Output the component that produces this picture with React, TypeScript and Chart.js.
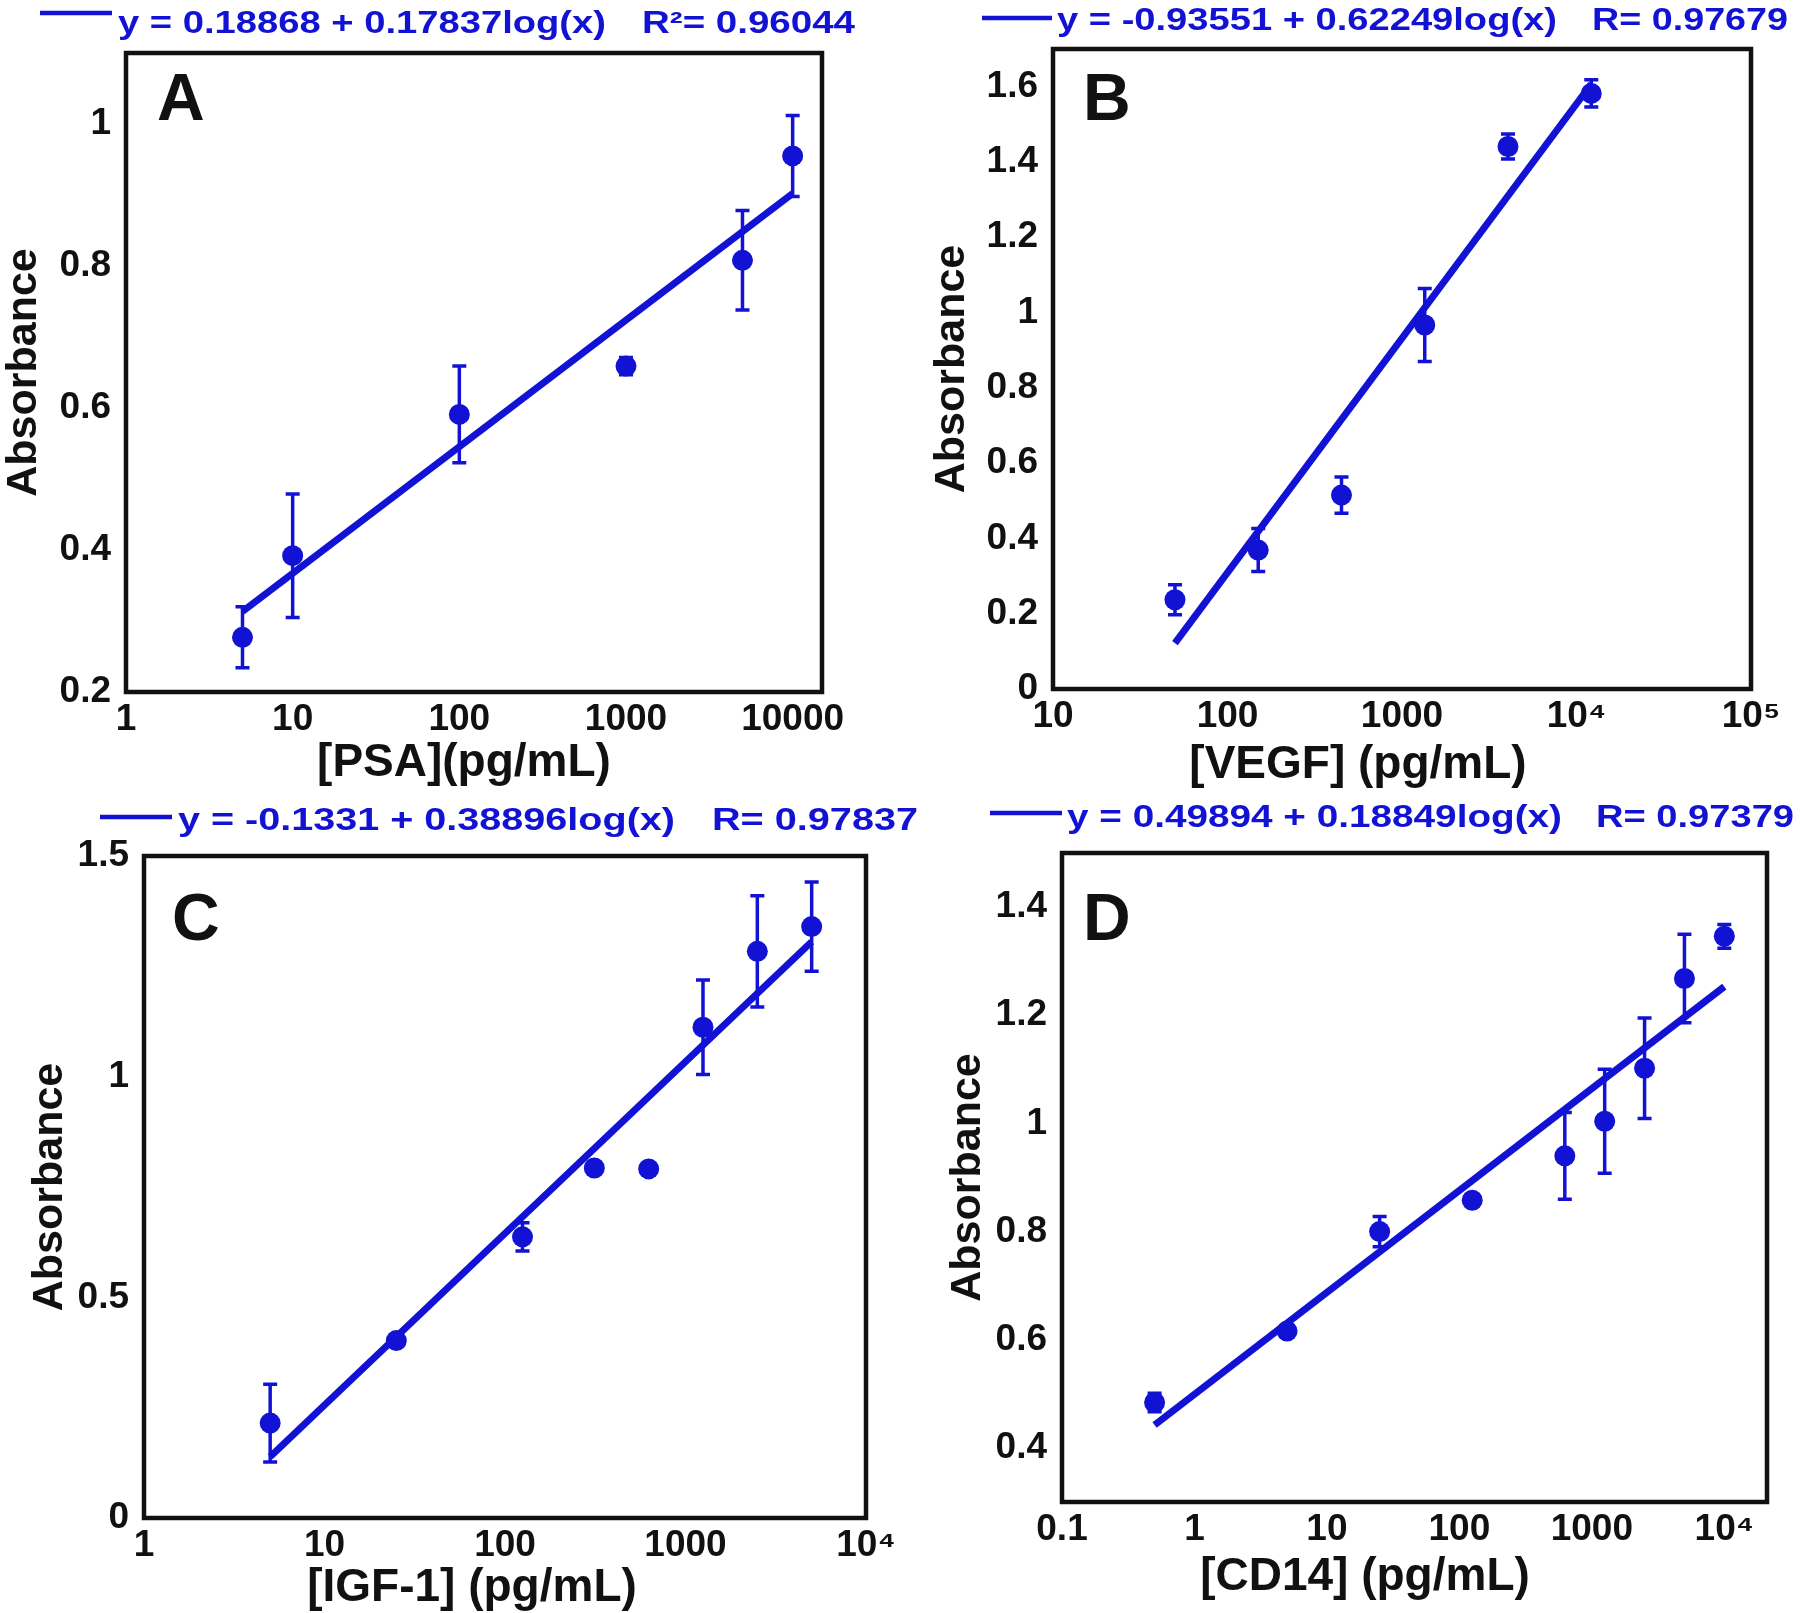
import React, { useEffect, useRef } from 'react';
import { Chart, registerables } from 'chart.js';

Chart.register(...registerables);

// ---------------- Panel A : PSA ----------------
const A_X = [5, 10, 100, 1000, 5000, 10000];
const A_Y = [0.277, 0.392, 0.591, 0.659, 0.808, 0.955];
const A_ERR = [0.043, 0.087, 0.068, 0.012, 0.07, 0.057];
const A_FIT_X = [5, 10000];
const A_FIT_Y = [0.31336, 0.90216];
const A_XTICKS = [1, 10, 100, 1000, 10000];
const A_XLABELS = ['1', '10', '100', '1000', '10000'];
const A_YTICKS = [0.2, 0.4, 0.6, 0.8, 1];
const A_YLABELS = ['0.2', '0.4', '0.6', '0.8', '1'];
const A_EQ = 'y = 0.18868 + 0.17837log(x)';
const A_R = 'R\u00B2= 0.96044';
const A_XTITLE = '[PSA](pg/mL)';

// ---------------- Panel B : VEGF ----------------
const B_X = [50, 150, 450, 1350, 4050, 12150];
const B_Y = [0.237, 0.369, 0.515, 0.967, 1.441, 1.582];
const B_ERR = [0.04, 0.057, 0.048, 0.097, 0.033, 0.036];
const B_FIT_X = [50, 12150];
const B_FIT_Y = [0.12208, 1.6071];
const B_XTICKS = [10, 100, 1000, 10000, 100000];
const B_XLABELS = ['10', '100', '1000', '10\u2074', '10\u2075'];
const B_YTICKS = [0, 0.2, 0.4, 0.6, 0.8, 1, 1.2, 1.4, 1.6];
const B_YLABELS = ['0', '0.2', '0.4', '0.6', '0.8', '1', '1.2', '1.4', '1.6'];
const B_EQ = 'y = -0.93551 + 0.62249log(x)';
const B_R = 'R= 0.97679';
const B_XTITLE = '[VEGF] (pg/mL)';

// ---------------- Panel C : IGF-1 ----------------
const C_X = [5, 25, 125, 312.5, 625, 1250, 2500, 5000];
const C_Y = [0.215, 0.402, 0.637, 0.793, 0.791, 1.112, 1.284, 1.34];
const C_ERR = [0.088, 0, 0.032, 0, 0, 0.107, 0.126, 0.101];
const C_FIT_X = [5, 5000];
const C_FIT_Y = [0.13877, 1.30565];
const C_XTICKS = [1, 10, 100, 1000, 10000];
const C_XLABELS = ['1', '10', '100', '1000', '10\u2074'];
const C_YTICKS = [0, 0.5, 1, 1.5];
const C_YLABELS = ['0', '0.5', '1', '1.5'];
const C_EQ = 'y = -0.1331 + 0.38896log(x)';
const C_R = 'R= 0.97837';
const C_XTITLE = '[IGF-1] (pg/mL)';

// ---------------- Panel D : CD14 ----------------
const D_X = [0.5, 5, 25, 125, 625, 1250, 2500, 5000, 10000];
const D_Y = [0.484, 0.616, 0.8, 0.858, 0.94, 1.004, 1.102, 1.268, 1.346];
const D_ERR = [0.017, 0.01, 0.028, 0, 0.08, 0.096, 0.093, 0.082, 0.022];
const D_FIT_X = [0.5, 10000];
const D_FIT_Y = [0.4422, 1.2529];
const D_XTICKS = [0.1, 1, 10, 100, 1000, 10000];
const D_XLABELS = ['0.1', '1', '10', '100', '1000', '10\u2074'];
const D_YTICKS = [0.4, 0.6, 0.8, 1, 1.2, 1.4];
const D_YLABELS = ['0.4', '0.6', '0.8', '1', '1.2', '1.4'];
const D_EQ = 'y = 0.49894 + 0.18849log(x)';
const D_R = 'R= 0.97379';
const D_XTITLE = '[CD14] (pg/mL)';

const Y_TITLE = 'Absorbance';

const BLUE = '#1212d4';
const INK = '#111111';
const FONT = "'Liberation Sans', Arial, Helvetica, sans-serif";

type Panel = {
  letter: string;
  xs: number[]; ys: number[]; errs: number[];
  fitX: number[]; fitY: number[];
  xTicks: number[]; xLabels: string[];
  yTicks: number[]; yLabels: string[];
  xMin: number; xMax: number; yMin: number; yMax: number;
  eq: string; r: string; xTitle: string;
  left: number; top: number; w: number; h: number;
  area: [number, number, number, number];
  yTitleX: number;
  xTitleX: number; xTitleY: number;
  letterX: number; letterBase: number;
  legLine: [number, number, number];
  eqX: number; eqW: number; rX: number; rW: number; eqBase: number;
};

const PANELS: Panel[] = [
  {
    letter: 'A', xs: A_X, ys: A_Y, errs: A_ERR, fitX: A_FIT_X, fitY: A_FIT_Y,
    xTicks: A_XTICKS, xLabels: A_XLABELS, yTicks: A_YTICKS, yLabels: A_YLABELS,
    xMin: 1, xMax: 15000, yMin: 0.2, yMax: 1.1, eq: A_EQ, r: A_R, xTitle: A_XTITLE,
    left: 0, top: 0, w: 900, h: 800, area: [126, 53, 822, 692],
    yTitleX: 24, xTitleX: 464, xTitleY: 763, letterX: 157, letterBase: 120,
    legLine: [40, 112, 13], eqX: 118, eqW: 488, rX: 642, rW: 213, eqBase: 33,
  },
  {
    letter: 'B', xs: B_X, ys: B_Y, errs: B_ERR, fitX: B_FIT_X, fitY: B_FIT_Y,
    xTicks: B_XTICKS, xLabels: B_XLABELS, yTicks: B_YTICKS, yLabels: B_YLABELS,
    xMin: 10, xMax: 100000, yMin: 0, yMax: 1.7, eq: B_EQ, r: B_R, xTitle: B_XTITLE,
    left: 900, top: 0, w: 900, h: 800, area: [153, 49, 851, 689],
    yTitleX: 52, xTitleX: 458, xTitleY: 765, letterX: 183, letterBase: 120,
    legLine: [82, 152, 18], eqX: 157, eqW: 500, rX: 692, rW: 196, eqBase: 30,
  },
  {
    letter: 'C', xs: C_X, ys: C_Y, errs: C_ERR, fitX: C_FIT_X, fitY: C_FIT_Y,
    xTicks: C_XTICKS, xLabels: C_XLABELS, yTicks: C_YTICKS, yLabels: C_YLABELS,
    xMin: 1, xMax: 10000, yMin: 0, yMax: 1.5, eq: C_EQ, r: C_R, xTitle: C_XTITLE,
    left: 0, top: 800, w: 940, h: 813, area: [144, 56, 866, 718],
    yTitleX: 50, xTitleX: 472, xTitleY: 788, letterX: 172, letterBase: 140,
    legLine: [100, 172, 17], eqX: 178, eqW: 497, rX: 712, rW: 206, eqBase: 30,
  },
  {
    letter: 'D', xs: D_X, ys: D_Y, errs: D_ERR, fitX: D_FIT_X, fitY: D_FIT_Y,
    xTicks: D_XTICKS, xLabels: D_XLABELS, yTicks: D_YTICKS, yLabels: D_YLABELS,
    xMin: 0.1, xMax: 21000, yMin: 0.3, yMax: 1.5, eq: D_EQ, r: D_R, xTitle: D_XTITLE,
    left: 900, top: 800, w: 900, h: 813, area: [162, 53, 867, 702],
    yTitleX: 68, xTitleX: 465, xTitleY: 777, letterX: 183, letterBase: 140,
    legLine: [90, 162, 13], eqX: 167, eqW: 495, rX: 696, rW: 198, eqBase: 27,
  },
];

function drawStretched(ctx: CanvasRenderingContext2D, text: string, x: number, base: number, targetW: number, font: string) {
  ctx.font = font;
  const w = ctx.measureText(text).width;
  ctx.save();
  ctx.translate(x, base);
  ctx.scale(targetW / w, 1);
  ctx.textAlign = 'left';
  ctx.textBaseline = 'alphabetic';
  ctx.fillText(text, 0, 0);
  ctx.restore();
}

const framePlugin = {
  id: 'frame',
  afterDraw(chart: any) {
    const { ctx, chartArea } = chart;
    ctx.save();
    ctx.strokeStyle = INK;
    ctx.lineWidth = 4.5;
    ctx.strokeRect(chartArea.left, chartArea.top, chartArea.right - chartArea.left, chartArea.bottom - chartArea.top);
    ctx.restore();
  },
};

const errorBarPlugin = {
  id: 'errorBars',
  afterDatasetsDraw(chart: any) {
    const { ctx } = chart;
    const xs = chart.scales.x;
    const ys = chart.scales.y;
    chart.data.datasets.forEach((ds: any) => {
      if (!ds.errors) return;
      ctx.save();
      ctx.strokeStyle = BLUE;
      ctx.lineWidth = 3.5;
      const cap = 7;
      ds.data.forEach((pt: any, i: number) => {
        const e = ds.errors[i];
        if (!e) return;
        const px = xs.getPixelForValue(pt.x);
        const t = ys.getPixelForValue(pt.y + e);
        const b = ys.getPixelForValue(pt.y - e);
        ctx.beginPath();
        ctx.moveTo(px, t); ctx.lineTo(px, b);
        ctx.moveTo(px - cap, t); ctx.lineTo(px + cap, t);
        ctx.moveTo(px - cap, b); ctx.lineTo(px + cap, b);
        ctx.stroke();
      });
      ctx.restore();
    });
  },
};

function makeDecor(p: Panel) {
  return {
    id: 'decor',
    afterDraw(chart: any) {
      const ctx: CanvasRenderingContext2D = chart.ctx;
      ctx.save();
      ctx.strokeStyle = BLUE;
      ctx.lineWidth = 4.5;
      ctx.beginPath();
      ctx.moveTo(p.legLine[0], p.legLine[2]);
      ctx.lineTo(p.legLine[1], p.legLine[2]);
      ctx.stroke();
      ctx.fillStyle = BLUE;
      drawStretched(ctx, p.eq, p.eqX, p.eqBase, p.eqW, `bold 31px ${FONT}`);
      drawStretched(ctx, p.r, p.rX, p.eqBase, p.rW, `bold 31px ${FONT}`);
      ctx.fillStyle = INK;
      ctx.font = `bold 66px ${FONT}`;
      ctx.textAlign = 'left';
      ctx.textBaseline = 'alphabetic';
      ctx.fillText(p.letter, p.letterX, p.letterBase);
      ctx.font = `bold 46px ${FONT}`;
      ctx.textAlign = 'center';
      ctx.textBaseline = 'middle';
      ctx.fillText(p.xTitle, p.xTitleX, p.xTitleY);
      ctx.restore();
    },
  };
}

function PanelChart({ p }: { p: Panel }) {
  const ref = useRef<HTMLCanvasElement>(null);
  useEffect(() => {
    const canvas = ref.current;
    if (!canvas) return;
    const [al, at, ar, ab] = p.area;
    const tickFont = { family: FONT, size: 37, weight: 'bold' as const, lineHeight: 1 };
    const chart = new Chart(canvas, {
      type: 'scatter',
      data: {
        datasets: [
          {
            type: 'scatter',
            label: 'data',
            data: p.xs.map((x, i) => ({ x, y: p.ys[i] })),
            errors: p.errs,
            pointRadius: 10.5,
            pointHoverRadius: 10.5,
            pointBackgroundColor: BLUE,
            pointBorderColor: BLUE,
            pointBorderWidth: 0,
          } as any,
          {
            type: 'line',
            label: 'fit',
            data: p.fitX.map((x, i) => ({ x, y: p.fitY[i] })),
            showLine: true,
            borderColor: BLUE,
            borderWidth: 7,
            pointRadius: 0,
            fill: false,
            tension: 0,
            borderCapStyle: 'butt',
          } as any,
        ],
      },
      options: {
        responsive: false,
        devicePixelRatio: 1,
        animation: false,
        events: [],
        layout: { padding: { left: 0, top: at, right: p.w - ar, bottom: 0 } },
        plugins: { legend: { display: false }, tooltip: { enabled: false }, title: { display: false } },
        scales: {
          x: {
            type: 'logarithmic',
            position: 'bottom',
            min: p.xMin,
            max: p.xMax,
            grid: { display: false },
            border: { display: false },
            afterBuildTicks: (scale: any) => { scale.ticks = p.xTicks.map((v) => ({ value: v, major: true })); },
            afterFit: (scale: any) => { scale.height = p.h - ab; },
            ticks: {
              autoSkip: false, maxRotation: 0, minRotation: 0, padding: 1,
              color: INK, font: tickFont,
              callback: (v: any) => { const i = p.xTicks.indexOf(Number(v)); return i >= 0 ? p.xLabels[i] : ''; },
            },
          },
          y: {
            type: 'linear',
            position: 'left',
            min: p.yMin,
            max: p.yMax,
            grid: { display: false },
            border: { display: false },
            afterBuildTicks: (scale: any) => { scale.ticks = p.yTicks.map((v) => ({ value: v })); },
            afterFit: (scale: any) => { scale.width = al; },
            ticks: {
              autoSkip: false, padding: 7, color: INK, font: tickFont,
              callback: (v: any) => { const i = p.yTicks.indexOf(Number(v)); return i >= 0 ? p.yLabels[i] : ''; },
            },
            title: {
              display: true,
              text: Y_TITLE,
              color: INK,
              font: { family: FONT, size: 43, weight: 'bold', lineHeight: 1 },
              padding: { top: p.yTitleX - 21.5, bottom: 0 },
            },
          },
        },
      } as any,
      plugins: [framePlugin, errorBarPlugin, makeDecor(p)],
    });
    return () => chart.destroy();
  }, [p]);
  return (
    <canvas
      ref={ref}
      width={p.w}
      height={p.h}
      style={{ position: 'absolute', left: p.left, top: p.top, width: p.w, height: p.h }}
    />
  );
}

export default function App() {
  return (
    <div style={{ position: 'absolute', left: 0, top: 0, width: 1800, height: 1613, background: '#ffffff', overflow: 'hidden' }}>
      {PANELS.map((p) => (
        <PanelChart key={p.letter} p={p} />
      ))}
    </div>
  );
}
